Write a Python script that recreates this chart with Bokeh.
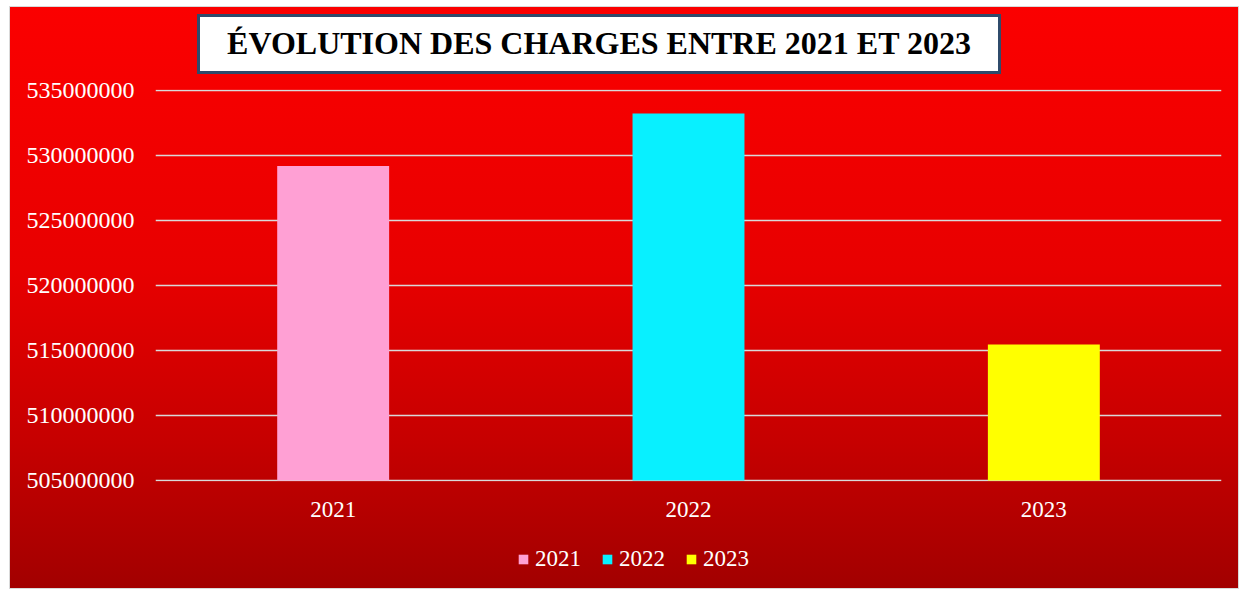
from bokeh.plotting import figure
from bokeh.layouts import column
from bokeh.models import (ColumnDataSource, FactorRange, Range1d, Legend, Div,
                          LegendItem, SingleIntervalTicker, BasicTickFormatter,
                          InlineStyleSheet)
from bokeh.embed import file_html
from bokeh.resources import INLINE

# ---- data ----
years = ["2021", "2022", "2023"]
charges = [529200000, 533230000, 515460000]
bar_colors = ["#FFA0D4", "#08F0FF", "#FFFF00"]
title_text = "ÉVOLUTION DES CHARGES ENTRE 2021 ET 2023"
y_start, y_end, y_step = 505000000, 535000000, 5000000

FONT = "Liberation Serif"
W = 1228

source = ColumnDataSource(dict(years=years, charges=charges, colors=bar_colors))

# ---- title box ----
title_div = Div(
    text=(f'<div style="box-sizing:border-box;width:804px;height:60px;'
          f'border:3px solid #2F4B6B;background:#ffffff;display:flex;'
          f'align-items:center;justify-content:center;font-family:\'{FONT}\';'
          f'font-weight:bold;font-size:32px;color:#000000;white-space:nowrap;">'
          f'{title_text}</div>'),
    width=804, height=60, margin=(7, 0, 0, 187),
)

# ---- main chart ----
p = figure(
    x_range=FactorRange(*years, range_padding=0),
    y_range=Range1d(y_start - 80000, y_end + 80000),
    width=W, height=452,
    output_backend="svg", toolbar_location=None,
    min_border_left=145, min_border_right=17, min_border_top=15, min_border_bottom=45,
)
p.background_fill_alpha = 0
p.border_fill_alpha = 0
p.outline_line_color = None

r = p.vbar(x="years", top="charges", bottom=y_start, width=0.315, source=source,
           fill_color="colors", line_color=None)

p.yaxis.ticker = SingleIntervalTicker(interval=y_step)
p.yaxis.formatter = BasicTickFormatter(use_scientific=False)
for ax in (p.xaxis[0], p.yaxis[0]):
    ax.axis_line_color = None
    ax.major_tick_line_color = None
    ax.minor_tick_line_color = None
    ax.major_tick_out = 0
    ax.major_tick_in = 0
    ax.minor_tick_out = 0
    ax.major_label_text_color = "white"
    ax.major_label_text_font = FONT
p.yaxis.major_label_text_font_size = "24px"
p.xaxis.major_label_text_font_size = "23px"
p.yaxis.major_label_standoff = 21
p.xaxis.major_label_standoff = 20

p.xgrid.grid_line_color = None
p.ygrid.grid_line_color = "#D9D9D9"
p.ygrid.grid_line_width = 1.5

# ---- legend strip (proxy renderer of zero height, nothing drawn) ----
pl = figure(
    x_range=FactorRange(*years, range_padding=0), y_range=Range1d(y_start, y_end),
    width=W, height=62, output_backend="svg", toolbar_location=None,
    x_axis_type=None, y_axis_type=None,
    min_border_left=0, min_border_right=0, min_border_top=0, min_border_bottom=0,
)
pl.background_fill_alpha = 0
pl.border_fill_alpha = 0
pl.outline_line_color = None
pl.grid.grid_line_color = None
rl = pl.vbar(x="years", top="charges", bottom="charges", width=0.315, source=source,
             fill_color="colors", line_color=None)

items = [LegendItem(label=years[i], renderers=[rl], index=i) for i in range(len(years))]
legend = Legend(items=items, orientation="horizontal", location=(362, 16),
                label_text_color="white", label_text_font=FONT,
                label_text_font_size="23px", glyph_width=12, glyph_height=12,
                label_standoff=6, spacing=20, background_fill_alpha=0,
                border_line_color=None, margin=0, padding=5)
pl.add_layout(legend)

css = InlineStyleSheet(css=":host { background-image: linear-gradient(to bottom, #fb0000 0%, #e80000 45%, #c60000 75%, #a20000 100%); box-shadow: 0 0 0 1px #d9d9d9; }")
layout = column(title_div, p, pl, spacing=0, margin=(7, 0, 0, 10), stylesheets=[css])

open("out.html", "w").write(file_html(layout, INLINE))
